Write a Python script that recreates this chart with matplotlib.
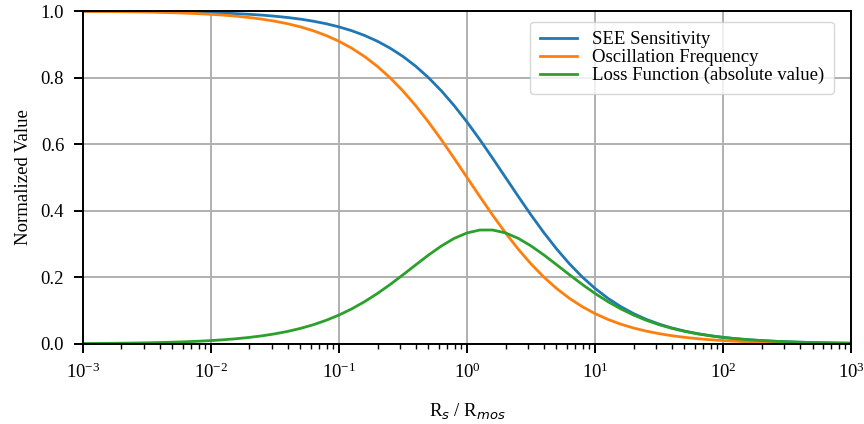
import numpy as np
import matplotlib
matplotlib.use('Agg')
import matplotlib.pyplot as plt

plt.rcParams['font.family'] = ['Liberation Serif', 'DejaVu Serif']
plt.rcParams['font.size'] = 13.5

# resistance ratio Rs/Rmos, log10 steps of 0.1 from 1e-3 to 1e3
log_ratio = [-3.0, -2.9, -2.8, -2.7, -2.6, -2.5, -2.4, -2.3, -2.2, -2.1,
             -2.0, -1.9, -1.8, -1.7, -1.6, -1.5, -1.4, -1.3, -1.2, -1.1,
             -1.0, -0.9, -0.8, -0.7, -0.6, -0.5, -0.4, -0.3, -0.2, -0.1,
             0.0, 0.1, 0.2, 0.3, 0.4, 0.5, 0.6, 0.7, 0.8, 0.9,
             1.0, 1.1, 1.2, 1.3, 1.4, 1.5, 1.6, 1.7, 1.8, 1.9,
             2.0, 2.1, 2.2, 2.3, 2.4, 2.5, 2.6, 2.7, 2.8, 2.9, 3.0]

see_sens = [0.9995, 0.9994, 0.9992, 0.9990, 0.9987, 0.9984, 0.9980, 0.9975, 0.9969, 0.9960,
            0.9950, 0.9937, 0.9921, 0.9901, 0.9876, 0.9844, 0.9805, 0.9756, 0.9694, 0.9618,
            0.9524, 0.9408, 0.9266, 0.9093, 0.8884, 0.8635, 0.8340, 0.7996, 0.7602, 0.7157,
            0.6667, 0.6137, 0.5579, 0.5006, 0.4433, 0.3874, 0.3344, 0.2852, 0.2407, 0.2011,
            0.1667, 0.1371, 0.1121, 0.0911, 0.0737, 0.0595, 0.0478, 0.0384, 0.0307, 0.0246,
            0.0196, 0.0156, 0.0125, 0.0099, 0.0079, 0.0063, 0.0050, 0.0040, 0.0032, 0.0025, 0.0020]

osc_freq = [0.9990, 0.9987, 0.9984, 0.9980, 0.9975, 0.9968, 0.9960, 0.9950, 0.9937, 0.9921,
            0.9901, 0.9876, 0.9844, 0.9804, 0.9755, 0.9693, 0.9617, 0.9523, 0.9406, 0.9264,
            0.9091, 0.8882, 0.8632, 0.8337, 0.7992, 0.7597, 0.7153, 0.6661, 0.6131, 0.5573,
            0.5000, 0.4427, 0.3868, 0.3339, 0.2847, 0.2403, 0.2008, 0.1663, 0.1368, 0.1118,
            0.0909, 0.0736, 0.0593, 0.0477, 0.0383, 0.0307, 0.0245, 0.0196, 0.0156, 0.0124,
            0.0099, 0.0079, 0.0063, 0.0050, 0.0040, 0.0032, 0.0025, 0.0020, 0.0016, 0.0013, 0.0010]

loss_abs = [0.0010, 0.0013, 0.0016, 0.0020, 0.0025, 0.0032, 0.0040, 0.0050, 0.0063, 0.0079,
            0.0099, 0.0124, 0.0155, 0.0194, 0.0242, 0.0302, 0.0375, 0.0466, 0.0575, 0.0708,
            0.0866, 0.1052, 0.1268, 0.1513, 0.1784, 0.2075, 0.2375, 0.2670, 0.2941, 0.3169,
            0.3333, 0.3420, 0.3421, 0.3335, 0.3171, 0.2943, 0.2673, 0.2378, 0.2078, 0.1787,
            0.1515, 0.1270, 0.1054, 0.0868, 0.0709, 0.0577, 0.0467, 0.0376, 0.0302, 0.0243,
            0.0194, 0.0155, 0.0124, 0.0099, 0.0079, 0.0063, 0.0050, 0.0040, 0.0032, 0.0025, 0.0020]

ratio = 10.0 ** np.array(log_ratio)

fig = plt.figure(figsize=(8.64, 4.24), dpi=100)
ax = fig.add_axes([0.096, 0.189, 0.889, 0.785])

ax.plot(ratio, see_sens, color='#1f77b4', lw=2.0, label='SEE Sensitivity')
ax.plot(ratio, osc_freq, color='#ff7f0e', lw=2.0, label='Oscillation Frequency')
ax.plot(ratio, loss_abs, color='#2ca02c', lw=2.0, label='Loss Function (absolute value)')

ax.set_xscale('log')
ax.set_xlim(1e-3, 1e3)
ax.set_ylim(0, 1.0)
ax.set_yticks([0.0, 0.2, 0.4, 0.6, 0.8, 1.0])
ax.grid(True, which='major', color='#b0b0b0', lw=1.4)
ax.set_axisbelow(True)

for s in ax.spines.values():
    s.set_linewidth(1.4)
ax.tick_params(which='major', direction='out', length=6.5, width=1.4, labelsize=13.5)
ax.tick_params(axis='y', which='major', pad=7)
ax.tick_params(axis='x', which='major', pad=7)
ax.tick_params(which='minor', direction='out', length=3.5, width=1.0)

ax.set_xlabel('R$_s$ / R$_{mos}$', fontsize=13.5, labelpad=14)
ax.set_ylabel('Normalized Value', fontsize=13.5, labelpad=6)
ax.legend(loc='upper right', fontsize=13.5, handlelength=2.0, labelspacing=0.05,
          bbox_to_anchor=(0.985, 0.985), borderaxespad=0.3, borderpad=0.5)

fig.savefig('out.png', dpi=100)
